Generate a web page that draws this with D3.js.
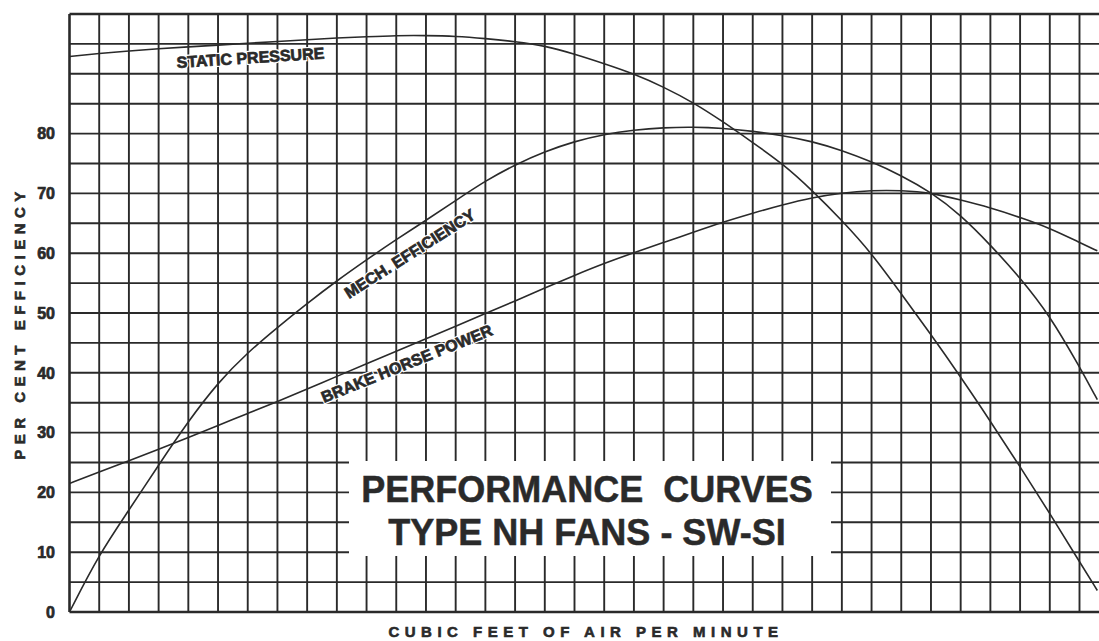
<!DOCTYPE html>
<html>
<head>
<meta charset="utf-8">
<style>
  body { margin: 0; background: #fff; }
  svg { display: block; font-family: "Liberation Sans", Arial, Helvetica, sans-serif; }
</style>
</head>
<body>
<svg id="svg"></svg>
<script src="https://d3js.org/d3.v7.min.js"></script>
<script>
  // air volume, in grid columns (the sheet is cut off just past column 34)
  let cfmSteps = [0, 1, 2, 3, 4, 5, 6, 7, 8, 9, 10, 11, 12, 13, 14, 15, 16, 17,
                  18, 19, 20, 21, 22, 23, 24, 25, 26, 27, 28, 29, 30, 31, 32, 33, 34, 34.6]

  let staticPressure = [92.9, 93.4, 93.8, 94.2, 94.5, 94.8, 95.1, 95.4, 95.7, 96.0, 96.2, 96.4,
                        96.4, 96.3, 95.9, 95.4, 94.7, 93.3, 91.7, 90.0, 87.8, 85.2, 82.0, 78.5,
                        75.0, 70.5, 65.5, 60.0, 53.2, 46.4, 39.3, 31.9, 24.3, 16.5, 8.4, 3.6]

  let mechEfficiency = [0, 9.7, 17.0, 24.6, 31.9, 38.4, 43.4, 47.6, 51.6, 55.4, 58.9, 62.3,
                        65.5, 68.8, 72.1, 74.8, 77.0, 78.7, 79.9, 80.6, 81.0, 81.1, 80.9, 80.4,
                        79.7, 78.7, 77.2, 75.3, 73.0, 70.2, 66.4, 61.4, 55.9, 49.6, 41.0, 35.5]

  let brakeHorsePower = [21.5, 23.4, 25.3, 27.2, 29.2, 31.2, 33.2, 35.2, 37.3, 39.4, 41.5, 43.6,
                         45.7, 47.8, 49.9, 52.0, 54.2, 56.3, 58.3, 60.1, 61.8, 63.5, 65.2, 66.7,
                         68.1, 69.3, 70.1, 70.5, 70.5, 70.1, 68.9, 67.6, 66.0, 64.2, 61.8, 60.4]

  let yTickValues = [0, 10, 20, 30, 40, 50, 60, 70, 80]
  let curveNames = ['STATIC PRESSURE', 'MECH. EFFICIENCY', 'BRAKE HORSE POWER']
  let titleLines = ['PERFORMANCE  CURVES', 'TYPE NH FANS - SW-SI']
  let xTitle = 'CUBIC FEET OF AIR PER MINUTE'
  let yTitle = 'PER CENT EFFICIENCY'

  let width = 1099, height = 641
  let ink = '#2a2a2a'

  let x = d3.scaleLinear().domain([0, 34]).range([69.5, 1079.5])
  let y = d3.scaleLinear().domain([0, 100]).range([612, 14])

  let svg = d3.select('#svg')
      .attr('width', width)
      .attr('height', height)

  svg.append('rect')
      .attr('width', width)
      .attr('height', height)
      .style('fill', '#fff')

  // graph paper: a column per step, a row every 5 per cent
  let grid = svg.append('g').attr('id', 'grid')

  grid.selectAll('line.col')
      .data(d3.range(0, 36))
      .enter().append('line')
      .attr('class', 'col')
      .attr('x1', d => x(d))
      .attr('x2', d => x(d))
      .attr('y1', y(100))
      .attr('y2', y(0))
      .style('stroke', ink)
      .style('stroke-width', d => d === 0 ? 2.6 : 1.9)

  grid.selectAll('line.row')
      .data(d3.range(0, 101, 5))
      .enter().append('line')
      .attr('class', 'row')
      .attr('x1', x(0))
      .attr('x2', width)
      .attr('y1', d => y(d))
      .attr('y2', d => y(d))
      .style('stroke', ink)
      .style('stroke-width', d => (d === 0 || d === 100) ? 2.6 : 1.9)

  // curves
  let line = d3.line()
      .x((d, i) => x(cfmSteps[i]))
      .y(d => y(d))
      .curve(d3.curveBasis)

  svg.append('g')
      .attr('id', 'curves')
      .selectAll('path')
      .data([staticPressure, mechEfficiency, brakeHorsePower])
      .enter().append('path')
      .attr('d', line)
      .style('fill', 'none')
      .style('stroke', ink)
      .style('stroke-width', 1.6)

  // curve names, laid just under each curve
  let namePlaces = [
    {tx: 177, ty: 68, rot: -3.7},
    {tx: 349, ty: 299, rot: -32.5},
    {tx: 324, ty: 403, rot: -22}
  ]
  let names = svg.append('g').attr('id', 'curveNames')
  let placeName = (d, i) => 'translate(' + namePlaces[i].tx + ',' + namePlaces[i].ty + ') rotate(' + namePlaces[i].rot + ')'

  names.selectAll('text.halo')
      .data(curveNames)
      .enter().append('text')
      .attr('class', 'halo')
      .attr('transform', placeName)
      .style('font-size', '16px')
      .style('font-weight', 'bold')
      .style('fill', '#fff')
      .style('stroke', '#fff')
      .style('stroke-width', 3)
      .text(d => d)

  names.selectAll('text.name')
      .data(curveNames)
      .enter().append('text')
      .attr('class', 'name')
      .attr('transform', placeName)
      .style('font-size', '16px')
      .style('font-weight', 'bold')
      .style('fill', ink)
      .style('stroke', ink)
      .style('stroke-width', 0.7)
      .text(d => d)

  // title panel cut out of the paper
  svg.append('rect')
      .attr('x', 349)
      .attr('y', 461)
      .attr('width', 482)
      .attr('height', 95)
      .style('fill', '#fff')

  svg.append('g')
      .attr('id', 'title')
      .selectAll('text')
      .data(titleLines)
      .enter().append('text')
      .attr('x', 587)
      .attr('y', (d, i) => 502 + i * 43)
      .attr('text-anchor', 'middle')
      .style('font-size', '36px')
      .style('font-weight', 'bold')
      .style('white-space', 'pre')
      .style('fill', ink)
      .style('stroke', ink)
      .style('stroke-width', 0.5)
      .text(d => d)

  // y tick labels
  svg.append('g')
      .attr('id', 'yTicks')
      .selectAll('text')
      .data(yTickValues)
      .enter().append('text')
      .attr('x', 55)
      .attr('y', d => y(d))
      .attr('dy', '0.36em')
      .attr('text-anchor', 'end')
      .style('font-size', '16px')
      .style('font-weight', 'bold')
      .style('fill', ink)
      .style('stroke', ink)
      .style('stroke-width', 0.7)
      .text(d => d)

  // axis titles
  svg.append('text')
      .attr('x', 586)
      .attr('y', 637)
      .attr('text-anchor', 'middle')
      .style('font-size', '15px')
      .style('font-weight', 'bold')
      .style('letter-spacing', '5.5px')
      .style('fill', ink)
      .style('stroke', ink)
      .style('stroke-width', 0.6)
      .text(xTitle)

  svg.append('text')
      .attr('transform', 'translate(25,' + 323 + ') rotate(-90)')
      .attr('text-anchor', 'middle')
      .style('font-size', '15px')
      .style('font-weight', 'bold')
      .style('letter-spacing', '5.5px')
      .style('fill', ink)
      .style('stroke', ink)
      .style('stroke-width', 0.6)
      .text(yTitle)
</script>
</body>
</html>
